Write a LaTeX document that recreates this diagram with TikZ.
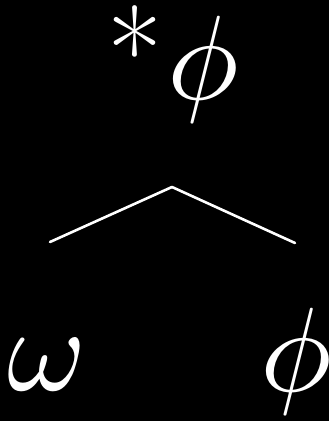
\documentclass[tikz,border=0pt]{standalone}
\begin{document}
\begin{tikzpicture}[x=1pt,y=1pt,
  lbl/.style={inner sep=0pt,anchor=base,text=white,font=\fontsize{120}{120}\selectfont},
  mlbl/.style={inner sep=0pt,anchor=base,text=white,font=\fontsize{10}{10}\selectfont,scale=12},
  edge/.style={draw=white,line width=2.6pt,line cap=round,line join=round}]
\fill[black] (0,0) rectangle (329,421);
\useasboundingbox (0,0) rectangle (329,421);
\node[lbl] (ast) at (135,325) {*};
\node[mlbl] (top) at (203,321) {$\phi$};
\coordinate (apex) at (172,234);
\coordinate (l) at (50,179);
\coordinate (r) at (295,178);
\node[mlbl] (om) at (47,30) {$\omega$};
\node[mlbl] (ph) at (296,29) {$\phi$};
\draw[edge] (l) -- (apex) -- (r);
\end{tikzpicture}
\end{document}
